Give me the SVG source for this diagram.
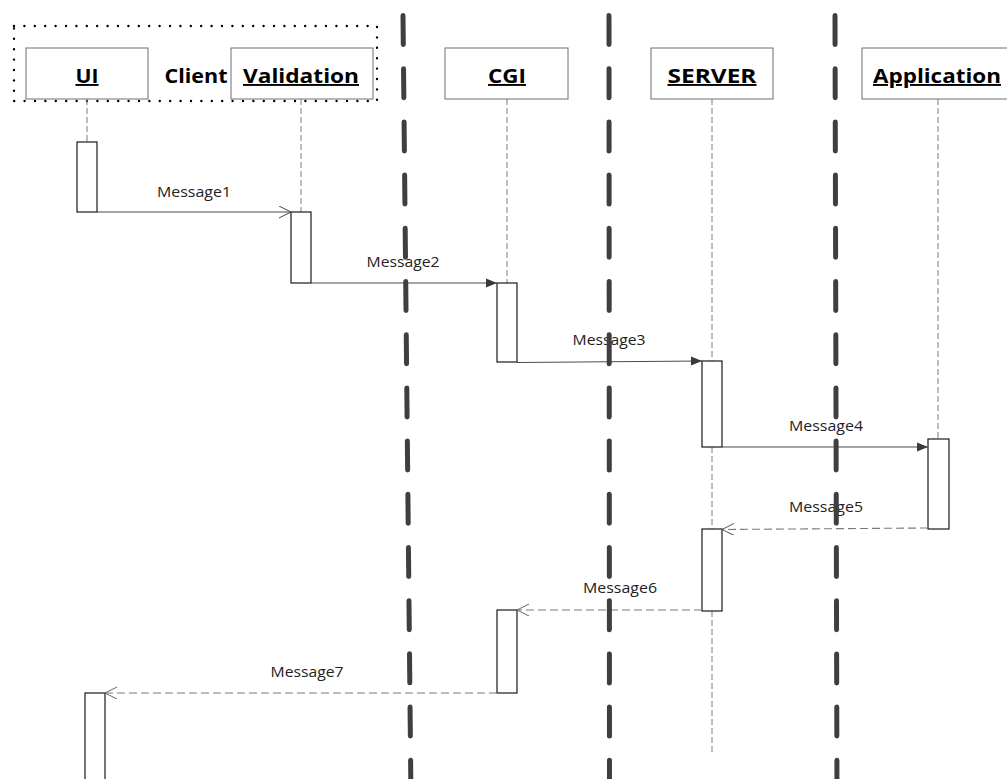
<svg xmlns="http://www.w3.org/2000/svg" width="1007" height="779" viewBox="0 0 1007 779">
<style>
.hdr{fill:#fff;stroke:#6e6e6e;stroke-width:1}
.hl{font-family:"Open Sans","DejaVu Sans",sans-serif;font-weight:bold;font-size:19px;fill:#000;text-anchor:middle;text-decoration:underline}
.life{stroke:#7a7a7a;stroke-width:1;stroke-dasharray:6 3;fill:none}
.act{fill:#fff;stroke:#1a1a1a;stroke-width:1.2}
.msg{stroke:#4a4a4a;stroke-width:1.1;fill:none}
.ret{stroke:#7a7a7a;stroke-width:1.1;stroke-dasharray:8 4;fill:none}
.ml{font-family:"Open Sans","DejaVu Sans",sans-serif;font-size:14.5px;fill:#222;text-anchor:middle}
.div{stroke:#3f3f3f;stroke-width:5;stroke-linecap:round;stroke-dasharray:29 24.2;fill:none}
</style>
<defs>
<marker id="fill" markerWidth="12" markerHeight="10" refX="11" refY="5" orient="auto" markerUnits="userSpaceOnUse">
<path d="M0,0.5 L11,5 L0,9.5 z" fill="#3a3a3a"/>
</marker>
<marker id="open" markerWidth="14" markerHeight="14" refX="12" refY="6" orient="auto" markerUnits="userSpaceOnUse">
<path d="M0,0 L12,6 L0,12" fill="none" stroke="#444" stroke-width="1"/>
</marker>
<marker id="openg" markerWidth="14" markerHeight="14" refX="12" refY="6" orient="auto" markerUnits="userSpaceOnUse">
<path d="M0,0 L12,6 L0,12" fill="none" stroke="#666" stroke-width="1"/>
</marker>
</defs>
<rect width="1007" height="779" fill="#fff"/>

<g id="client-boundary">
<rect x="14" y="26" width="363" height="75" fill="none" stroke="#000" stroke-width="2.4" stroke-linecap="round" stroke-dasharray="0 10.4"/>
<text x="196" y="83" font-family="'Open Sans','DejaVu Sans',sans-serif" font-weight="bold" font-size="19" text-anchor="middle" textLength="63" lengthAdjust="spacingAndGlyphs">Client</text>
</g>

<g id="lifelines">
<path class="life" d="M87,99 V142"/>
<path class="life" d="M301,99 V212"/>
<path class="life" d="M507,99 V283"/>
<path class="life" d="M712,99 V361 M712,447 V529 M712,611 V752"/>
<path class="life" d="M938,99 V439"/>
</g>

<g id="UI">
<rect class="hdr" x="26" y="48" width="122" height="51"/>
<text class="hl" x="87" y="83" textLength="23" lengthAdjust="spacingAndGlyphs">UI</text>
</g>
<g id="Validation">
<rect class="hdr" x="231" y="48" width="142" height="51"/>
<text class="hl" x="301" y="83" textLength="116" lengthAdjust="spacingAndGlyphs">Validation</text>
</g>
<g id="CGI">
<rect class="hdr" x="445" y="48" width="123" height="51"/>
<text class="hl" x="507" y="83" textLength="38" lengthAdjust="spacingAndGlyphs">CGI</text>
</g>
<g id="SERVER">
<rect class="hdr" x="651" y="48" width="122" height="51"/>
<text class="hl" x="712" y="83" textLength="89" lengthAdjust="spacingAndGlyphs">SERVER</text>
</g>
<g id="Application">
<rect class="hdr" x="862" y="48" width="154" height="51"/>
<text class="hl" x="937" y="83" textLength="128" lengthAdjust="spacingAndGlyphs">Application</text>
</g>

<g id="activations">
<rect class="act" x="77" y="142" width="20" height="70"/>
<rect class="act" x="291" y="212" width="20" height="71"/>
<rect class="act" x="497" y="283" width="20" height="79"/>
<rect class="act" x="702" y="361" width="20" height="86"/>
<rect class="act" x="928" y="439" width="21" height="90"/>
<rect class="act" x="702" y="529" width="20" height="82"/>
<rect class="act" x="497" y="610" width="20" height="83"/>
<rect class="act" x="85" y="693" width="20" height="100"/>
</g>

<g id="connectors">
<path class="msg" d="M97,212 H291" stroke="#333" marker-end="url(#open)"/>
<path class="msg" d="M311,283 H497" marker-end="url(#fill)"/>
<path class="msg" d="M517,362.5 L702,361" marker-end="url(#fill)"/>
<path class="msg" d="M722,447 H928" marker-end="url(#fill)"/>
<path class="ret" d="M928,528 L722,529.5" marker-end="url(#openg)"/>
<path class="ret" d="M702,610 H517" marker-end="url(#openg)"/>
<path class="ret" d="M497,693 H105" marker-end="url(#openg)"/>
</g>

<g id="labels">
<text class="ml" x="194" y="197" textLength="74" lengthAdjust="spacingAndGlyphs">Message1</text>
<text class="ml" x="403" y="267" textLength="73" lengthAdjust="spacingAndGlyphs">Message2</text>
<text class="ml" x="609" y="345" textLength="73" lengthAdjust="spacingAndGlyphs">Message3</text>
<text class="ml" x="826" y="431" textLength="74" lengthAdjust="spacingAndGlyphs">Message4</text>
<text class="ml" x="826" y="512" textLength="74" lengthAdjust="spacingAndGlyphs">Message5</text>
<text class="ml" x="620" y="593" textLength="74" lengthAdjust="spacingAndGlyphs">Message6</text>
<text class="ml" x="307" y="677" textLength="73" lengthAdjust="spacingAndGlyphs">Message7</text>
</g>

<g id="partitions">
<path class="div" d="M403,15.5 L411,800"/>
<path class="div" d="M609,15.5 L609.5,800"/>
<path class="div" d="M835,15.5 L837,800"/>
</g>
</svg>
